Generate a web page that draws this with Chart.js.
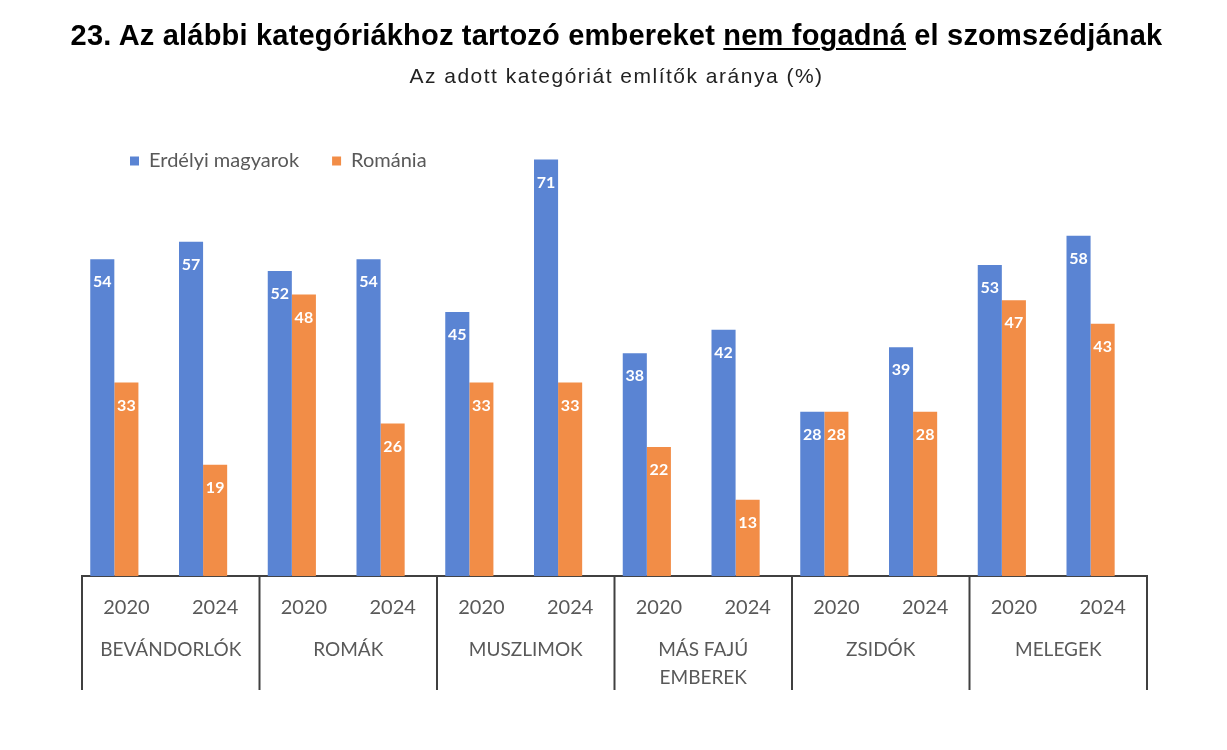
<!DOCTYPE html>
<html lang="hu">
<head>
<meta charset="utf-8">
<title>Szomszédként nem fogadná el</title>
<script src="https://cdn.jsdelivr.net/npm/chart.js@4.4.1/dist/chart.umd.min.js"></script>
<style>
  html, body { margin: 0; padding: 0; background: #fff; }
  #wrap { position: relative; width: 1227px; height: 750px; }
  #title {
    position: absolute; left: 0; top: 19px; width: 1233px; text-align: center;
    font: bold 29px "Liberation Sans", Arial, sans-serif; color: #000; margin: 0;
    letter-spacing: 0.2px; white-space: nowrap;
  }
  #subtitle {
    position: absolute; left: 0; top: 64px; width: 1233px; text-align: center;
    font: 21px "Liberation Sans", Arial, sans-serif; color: #222; margin: 0;
    letter-spacing: 1.5px; white-space: nowrap;
  }
  #title u { text-decoration-thickness: 2px; text-underline-offset: 3px; }
  canvas { position: absolute; left: 0; top: 0; }
</style>
</head>
<body>
<div id="wrap">
  <canvas id="chart" width="1227" height="750"></canvas>
  <p id="title">23. Az alábbi kategóriákhoz tartozó embereket <u>nem fogadná</u> el szomszédjának</p>
  <p id="subtitle">Az adott kategóriát említők aránya (%)</p>
</div>
<script>
// kategóriák és évek
let categories = ["BEVÁNDORLÓK", "ROMÁK", "MUSZLIMOK", ["MÁS FAJÚ", "EMBEREK"], "ZSIDÓK", "MELEGEK"];
let years = ["2020", "2024", "2020", "2024", "2020", "2024", "2020", "2024", "2020", "2024", "2020", "2024"];

// értékek (%)
let erdelyi = [54, 57, 52, 54, 45, 71, 38, 42, 28, 39, 53, 58];
let romania = [33, 19, 48, 26, 33, 33, 22, 13, 28, 28, 47, 43];

const BLUE = "#5A84D3";
const ORANGE = "#F28D47";
const GREY = "#595959";

// legend rajzolása a diagram területén belül (nem foglal helyet)
const legendOverlay = {
  id: "legendOverlay",
  beforeInit(chart) {
    const fit = chart.legend.fit;
    chart.legend.fit = function () {
      fit.bind(chart.legend)();
      this.height = 0;
    };
  },
  afterLayout(chart) {
    const lg = chart.legend;
    lg.left = chart.chartArea.left + 15;
    lg.right = chart.chartArea.right;
    lg.top = chart.chartArea.top - 18;
    lg.bottom = lg.top + 70;
    lg.width = lg.right - lg.left;
    lg.height = 70;
  },
};

// értékcímkék az oszlopok tetején belül
const barLabels = {
  id: "barLabels",
  afterDatasetsDraw(chart) {
    const ctx = chart.ctx;
    ctx.save();
    ctx.font = "bold 16px Lato";
    ctx.fillStyle = "#fff";
    ctx.textAlign = "center";
    ctx.textBaseline = "middle";
    chart.data.datasets.forEach((ds, i) => {
      chart.getDatasetMeta(i).data.forEach((bar, j) => {
        ctx.fillText(ds.data[j], bar.x, bar.y + 23);
      });
    });
    ctx.restore();
  },
};

// kategória-határok a tengely alatt
const groupLines = {
  id: "groupLines",
  afterDraw(chart) {
    const x = chart.scales.x;
    const x2 = chart.scales.x2;
    const ctx = chart.ctx;
    const slot = (x.right - x.left) / years.length;
    ctx.save();
    ctx.strokeStyle = "#404040";
    ctx.lineWidth = 2;
    for (let k = 0; k <= categories.length; k++) {
      const px = x.left + k * 2 * slot;
      ctx.beginPath();
      ctx.moveTo(px, chart.chartArea.bottom);
      ctx.lineTo(px, x2.bottom);
      ctx.stroke();
    }
    ctx.restore();
  },
};

let ctx_chart = document.getElementById("chart").getContext("2d");
let chart = new Chart(ctx_chart, {
  type: "bar",
  data: {
    labels: years,
    datasets: [
      { label: "Erdélyi magyarok", data: erdelyi, backgroundColor: BLUE },
      { label: "Románia", data: romania, backgroundColor: ORANGE },
      { label: "", data: [], backgroundColor: "transparent" },
    ],
  },
  options: {
    responsive: false,
    animation: false,
    layout: { padding: { left: 82, right: 80, top: 136, bottom: 60 } },
    datasets: {
      bar: { barPercentage: 1.0, categoryPercentage: 0.814 },
    },
    scales: {
      y: { display: false, min: 0, max: 75 },
      x: {
        grid: { display: false, drawTicks: false, tickLength: 0 },
        border: { display: true, color: "#404040", width: 2 },
        ticks: {
          color: GREY,
          font: { family: "Lato", size: 20 },
          padding: 19,
          autoSkip: false,
          maxRotation: 0,
        },
      },
      x2: {
        type: "category",
        position: "bottom",
        labels: categories,
        grid: { display: false, drawTicks: false, tickLength: 0 },
        border: { display: false },
        ticks: {
          color: GREY,
          font: { family: "Lato", size: 19, lineHeight: 1.47 },
          padding: -2,
          autoSkip: false,
          maxRotation: 0,
        },
      },
    },
    plugins: {
      title: { display: false },
      tooltip: { enabled: false },
      legend: {
        position: "top",
        align: "start",
        labels: {
          color: GREY,
          font: { family: "Lato", size: 20 },
          boxWidth: 9,
          boxHeight: 9,
          padding: 33,
          filter: (item) => item.text !== "",
        },
      },
    },
  },
  plugins: [legendOverlay, barLabels, groupLines],
});
</script>
</body>
</html>
